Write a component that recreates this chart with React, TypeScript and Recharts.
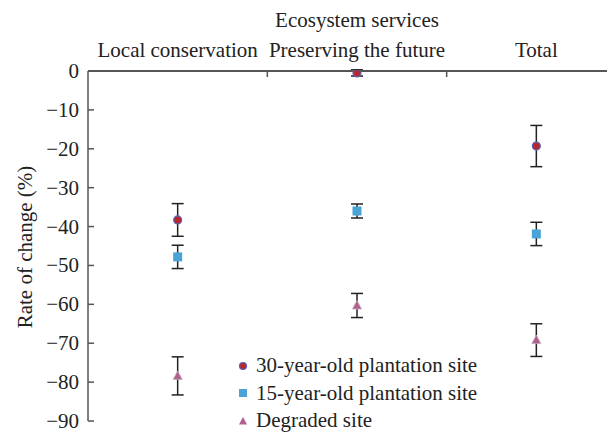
import React from 'react';
import { ScatterChart, Scatter, XAxis, YAxis, ErrorBar } from 'recharts';

const categories = ['Local conservation', 'Preserving the future', 'Total'];
const catPos = [0.5, 1.5, 2.5];
const dividers = [1, 2];
const yTicks = [0, -10, -20, -30, -40, -50, -60, -70, -80, -90];

const series30 = [-38.3, -0.5, -19.3];
const err30 = [4.2, 0.8, 5.3];
const series15 = [-47.8, -36.0, -41.9];
const err15 = [3.0, 1.8, 3.0];
const seriesDeg = [-78.4, -60.3, -69.2];
const errDeg = [4.9, 3.1, 4.2];

const seriesNames = ['30-year-old plantation site', '15-year-old plantation site', 'Degraded site'];
const titleText = 'Ecosystem services';
const yLabelText = 'Rate of change (%)';

const build = (vals: number[], errs: number[]) =>
  vals.map((v, i) => ({ x: catPos[i], y: v, err: errs[i] }));

const data30 = build(series30, err30);
const data15 = build(series15, err15);
const dataDeg = build(seriesDeg, errDeg);

const FONT = '"Liberation Serif", "Noto Serif", "DejaVu Serif", Tinos, Times, serif';
const AXIS = '#555';

const CircleShape = (p: any) => (
  <circle cx={p.cx} cy={p.cy} r={4} fill="#b8262e" stroke="#5866b8" strokeWidth={1.2} />
);
const SquareShape = (p: any) => (
  <rect x={p.cx - 4.5} y={p.cy - 4.5} width={9} height={9} fill="#4aa3d6" />
);
const TriShape = (p: any) => (
  <polygon
    points={`${p.cx},${p.cy - 5} ${p.cx - 4.5},${p.cy + 3.5} ${p.cx + 4.5},${p.cy + 3.5}`}
    fill="#b0608f"
    stroke="#c0a8b8"
    strokeWidth={0.8}
  />
);

const XTick = (props: any) => {
  const { x, y, payload } = props;
  const v = payload.value;
  const di = dividers.indexOf(v);
  if (di >= 0) {
    return <line x1={x} y1={y} x2={x} y2={y + 6} stroke={AXIS} strokeWidth={1.5} />;
  }
  const ci = catPos.indexOf(v);
  if (ci < 0) return null;
  return (
    <text x={x} y={y - 14} textAnchor="middle" style={{ fontFamily: FONT }} fontSize={21} fill="#222">
      {categories[ci]}
    </text>
  );
};

const YTick = (props: any) => {
  const { x, y, payload } = props;
  const v = payload.value;
  const label = v < 0 ? '\u2212' + Math.abs(v) : String(v);
  return (
    <g>
      {v !== 0 && <line x1={x} y1={y} x2={x + 6} y2={y} stroke={AXIS} strokeWidth={1.5} />}
      <text x={x - 9} y={y + 7} textAnchor="end" style={{ fontFamily: FONT }} fontSize={21} fill="#222">
        {label}
      </text>
    </g>
  );
};

const LegendMarker = ({ i }: { i: number }) => (
  <svg width={14} height={14} style={{ marginRight: 6, flex: 'none' }}>
    {i === 0 && <circle cx={7} cy={7} r={3.5} fill="#b8262e" stroke="#5866b8" strokeWidth={1.2} />}
    {i === 1 && <rect x={3} y={3} width={8} height={8} fill="#4aa3d6" />}
    {i === 2 && <polygon points="7,3 3,10.5 11,10.5" fill="#b0608f" />}
  </svg>
);

export default function App() {
  return (
    <div style={{ width: 607, height: 425, overflow: 'hidden', position: 'relative' }}>
      <ScatterChart width={618} height={425} margin={{ top: 0, right: 0, bottom: 12, left: 0 }}>
        <XAxis
          type="number"
          dataKey="x"
          orientation="top"
          domain={[0, 3]}
          ticks={[0.5, 1, 1.5, 2, 2.5]}
          interval={0}
          height={63}
          tickSize={0}
          tickMargin={0}
          tickLine={false}
          axisLine={{ stroke: AXIS, strokeWidth: 2 }}
          tick={<XTick />}
          allowDataOverflow
        />
        <YAxis
          type="number"
          dataKey="y"
          domain={[-90, 0]}
          ticks={yTicks}
          interval={0}
          width={80}
          tickSize={0}
          tickMargin={0}
          tickLine={false}
          axisLine={{ stroke: AXIS, strokeWidth: 1.5 }}
          tick={<YTick />}
          allowDataOverflow
          label={{
            content: () => (
              <text
                x={17}
                y={239}
                transform="rotate(-90 17 239)"
                textAnchor="middle"
                dominantBaseline="central"
                style={{ fontFamily: FONT }}
                fontSize={21}
                fill="#222"
              >
                {yLabelText}
              </text>
            ),
          }}
        />
        <Scatter name={seriesNames[0]} data={data30} shape={CircleShape} isAnimationActive={false}>
          <ErrorBar dataKey="err" direction="y" width={6} stroke="#222" strokeWidth={1.5} />
        </Scatter>
        <Scatter name={seriesNames[1]} data={data15} shape={SquareShape} isAnimationActive={false}>
          <ErrorBar dataKey="err" direction="y" width={6} stroke="#222" strokeWidth={1.5} />
        </Scatter>
        <Scatter name={seriesNames[2]} data={dataDeg} shape={TriShape} isAnimationActive={false}>
          <ErrorBar dataKey="err" direction="y" width={6} stroke="#222" strokeWidth={1.5} />
        </Scatter>
      </ScatterChart>
      <div
        style={{
          position: 'absolute',
          left: 80,
          width: 538,
          top: 0,
          textAlign: 'center',
          fontFamily: FONT,
          fontSize: 21,
          lineHeight: '24px',
          color: '#222',
          whiteSpace: 'nowrap',
        }}
      >
        {titleText}
      </div>
      <div
        style={{
          position: 'absolute',
          left: 228,
          top: 344,
          fontFamily: FONT,
          fontSize: 21,
          color: '#222',
        }}
      >
        {seriesNames.map((n, i) => (
          <div key={n} style={{ display: 'flex', alignItems: 'center', height: 27.5, whiteSpace: 'nowrap' }}>
            <LegendMarker i={i} />
            <span>{n}</span>
          </div>
        ))}
      </div>
    </div>
  );
}
